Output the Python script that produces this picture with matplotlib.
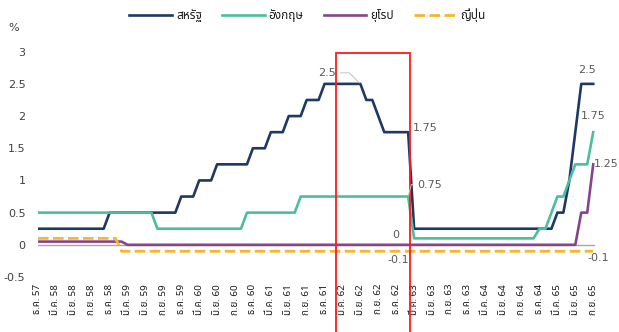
import matplotlib
matplotlib.use("Agg")
import matplotlib.pyplot as plt
from matplotlib import font_manager
from matplotlib.ft2font import FT2Font
from matplotlib.patches import Rectangle

# monthly policy rates (%), ธ.ค.57 (Dec 2014) .. ก.ย.65 (Sep 2022), one row per year
us_rate = [
    0.25,
    0.25, 0.25, 0.25, 0.25, 0.25, 0.25, 0.25, 0.25, 0.25, 0.25, 0.25, 0.5,
    0.5, 0.5, 0.5, 0.5, 0.5, 0.5, 0.5, 0.5, 0.5, 0.5, 0.5, 0.75,
    0.75, 0.75, 1.0, 1.0, 1.0, 1.25, 1.25, 1.25, 1.25, 1.25, 1.25, 1.5,
    1.5, 1.5, 1.75, 1.75, 1.75, 2.0, 2.0, 2.0, 2.25, 2.25, 2.25, 2.5,
    2.5, 2.5, 2.5, 2.5, 2.5, 2.5, 2.25, 2.25, 2.0, 1.75, 1.75, 1.75,
    1.75, 1.75, 0.25, 0.25, 0.25, 0.25, 0.25, 0.25, 0.25, 0.25, 0.25, 0.25,
    0.25, 0.25, 0.25, 0.25, 0.25, 0.25, 0.25, 0.25, 0.25, 0.25, 0.25, 0.25,
    0.25, 0.25, 0.5, 0.5, 1.0, 1.75, 2.5, 2.5, 2.5,
]
uk_rate = [
    0.5,
    0.5, 0.5, 0.5, 0.5, 0.5, 0.5, 0.5, 0.5, 0.5, 0.5, 0.5, 0.5,
    0.5, 0.5, 0.5, 0.5, 0.5, 0.5, 0.5, 0.25, 0.25, 0.25, 0.25, 0.25,
    0.25, 0.25, 0.25, 0.25, 0.25, 0.25, 0.25, 0.25, 0.25, 0.25, 0.5, 0.5,
    0.5, 0.5, 0.5, 0.5, 0.5, 0.5, 0.5, 0.75, 0.75, 0.75, 0.75, 0.75,
    0.75, 0.75, 0.75, 0.75, 0.75, 0.75, 0.75, 0.75, 0.75, 0.75, 0.75, 0.75,
    0.75, 0.75, 0.1, 0.1, 0.1, 0.1, 0.1, 0.1, 0.1, 0.1, 0.1, 0.1,
    0.1, 0.1, 0.1, 0.1, 0.1, 0.1, 0.1, 0.1, 0.1, 0.1, 0.1, 0.25,
    0.25, 0.5, 0.75, 0.75, 1.0, 1.25, 1.25, 1.25, 1.75,
]
eu_rate = [
    0.05,
    0.05, 0.05, 0.05, 0.05, 0.05, 0.05, 0.05, 0.05, 0.05, 0.05, 0.05, 0.05,
    0.05, 0.05, 0, 0, 0, 0, 0, 0, 0, 0, 0, 0,
    0, 0, 0, 0, 0, 0, 0, 0, 0, 0, 0, 0,
    0, 0, 0, 0, 0, 0, 0, 0, 0, 0, 0, 0,
    0, 0, 0, 0, 0, 0, 0, 0, 0, 0, 0, 0,
    0, 0, 0, 0, 0, 0, 0, 0, 0, 0, 0, 0,
    0, 0, 0, 0, 0, 0, 0, 0, 0, 0, 0, 0,
    0, 0, 0, 0, 0, 0, 0.5, 0.5, 1.25,
]
jp_rate = [
    0.1,
    0.1, 0.1, 0.1, 0.1, 0.1, 0.1, 0.1, 0.1, 0.1, 0.1, 0.1, 0.1,
    0.1, -0.1, -0.1, -0.1, -0.1, -0.1, -0.1, -0.1, -0.1, -0.1, -0.1, -0.1,
    -0.1, -0.1, -0.1, -0.1, -0.1, -0.1, -0.1, -0.1, -0.1, -0.1, -0.1, -0.1,
    -0.1, -0.1, -0.1, -0.1, -0.1, -0.1, -0.1, -0.1, -0.1, -0.1, -0.1, -0.1,
    -0.1, -0.1, -0.1, -0.1, -0.1, -0.1, -0.1, -0.1, -0.1, -0.1, -0.1, -0.1,
    -0.1, -0.1, -0.1, -0.1, -0.1, -0.1, -0.1, -0.1, -0.1, -0.1, -0.1, -0.1,
    -0.1, -0.1, -0.1, -0.1, -0.1, -0.1, -0.1, -0.1, -0.1, -0.1, -0.1, -0.1,
    -0.1, -0.1, -0.1, -0.1, -0.1, -0.1, -0.1, -0.1, -0.1,
]

series_names = ["สหรัฐ", "อังกฤษ", "ยุโรป", "ญี่ปุ่น"]

# quarterly axis labels
tick_labels = [
    "ธ.ค. 57",
    "มี.ค. 58", "มิ.ย. 58", "ก.ย. 58", "ธ.ค. 58",
    "มี.ค. 59", "มิ.ย. 59", "ก.ย. 59", "ธ.ค. 59",
    "มี.ค. 60", "มิ.ย. 60", "ก.ย. 60", "ธ.ค. 60",
    "มี.ค. 61", "มิ.ย. 61", "ก.ย. 61", "ธ.ค. 61",
    "มี.ค. 62", "มิ.ย. 62", "ก.ย. 62", "ธ.ค. 62",
    "มี.ค. 63", "มิ.ย. 63", "ก.ย. 63", "ธ.ค. 63",
    "มี.ค. 64", "มิ.ย. 64", "ก.ย. 64", "ธ.ค. 64",
    "มี.ค. 65", "มิ.ย. 65", "ก.ย. 65",
]
tick_step = 3

# ก.พ.62 .. ก.พ.63, the period boxed in red
box_start, box_end = 50, 62


def pick_thai_font(preferred=("Noto Sans Thai", "Sarabun", "IBM Plex Sans Thai Looped")):
    names = {f.name for f in font_manager.fontManager.ttflist}
    for name in preferred:
        if name in names:
            return name
    for f in font_manager.fontManager.ttflist:
        try:
            if 0x0E01 in FT2Font(f.fname).get_charmap():
                return f.name
        except Exception:
            pass
    return "DejaVu Sans"


thai_family = [pick_thai_font(), "DejaVu Sans"]

plt.rcParams["font.family"] = "DejaVu Sans"
label_grey = "#595959"
tick_col = "#404040"

fig = plt.figure(figsize=(6.19, 3.32), dpi=100)
ax = fig.add_axes([38 / 619, 1 - 277 / 332, (595 - 38) / 619, (277 - 51.7) / 332])

x = list(range(len(us_rate)))
ax.axhline(0, color="#A6A6A6", lw=1.0, zorder=1)
l_us, = ax.plot(x, us_rate, color="#1F3864", lw=1.9, zorder=3)
l_uk, = ax.plot(x, uk_rate, color="#4BBE9F", lw=1.9, zorder=3)
l_eu, = ax.plot(x, eu_rate, color="#84458A", lw=1.9, zorder=3)
l_jp, = ax.plot(x, jp_rate, color="#F6B72E", lw=2.0, ls=(0, (3.8, 1.6)), zorder=4)

ax.set_xlim(0, len(us_rate) - 0.7)
ax.set_ylim(-0.5, 3)
ax.set_yticks([-0.5, 0, 0.5, 1, 1.5, 2, 2.5, 3])
ax.set_yticklabels(["-0.5", "0", "0.5", "1", "1.5", "2", "2.5", "3"])
ax.set_xticks(range(0, len(us_rate), tick_step))
ax.set_xticklabels(tick_labels, rotation=90, family=thai_family, fontsize=7, color="#1a1a1a")
ax.tick_params(axis="x", length=0, pad=5)
ax.tick_params(axis="y", length=0, pad=9, labelsize=8, labelcolor=tick_col)
for s in ax.spines.values():
    s.set_visible(False)

fig.text(8 / 619, 1 - 28 / 332, "%", fontsize=8, color=tick_col, va="center")

ax.add_patch(Rectangle((box_start, -1.6), box_end - box_start + 0.3, 2.98 + 1.6,
                       fill=False, edgecolor="#FF1A1A", lw=1.3, clip_on=False, zorder=5))


def value_label(series, i, dx, dy, ha="center", leader=None):
    kw = {}
    if leader:
        kw["arrowprops"] = dict(arrowstyle="-", color="#BFBFBF", lw=0.7,
                                shrinkA=1, shrinkB=1, connectionstyle=leader)
    ax.annotate(f"{series[i]:g}", (i, series[i]), xytext=(dx, dy),
                textcoords="offset pixels", ha=ha, va="center",
                fontsize=8, color=label_grey, zorder=6, **kw)


value_label(us_rate, 54, -33, 11, leader="angle,angleA=0,angleB=-45,rad=0")
value_label(us_rate, box_end, 5, 4, ha="left")
value_label(uk_rate, box_end, 9, 12, ha="left", leader="angle,angleA=0,angleB=75,rad=0")
value_label(eu_rate, box_end, -12, 10)
value_label(jp_rate, box_end, -10, -9)
last = len(us_rate) - 1
value_label(us_rate, last, -6, 14)
value_label(uk_rate, last, 0, 16)
value_label(eu_rate, last, 1, 0, ha="left")
value_label(jp_rate, last, 5, -7)

fig.legend([l_us, l_uk, l_eu, l_jp], series_names, loc="center",
           bbox_to_anchor=(0.497, 1 - 15 / 332), ncol=4, frameon=False,
           handlelength=3.6, handletextpad=0.35, columnspacing=1.7,
           prop={"family": thai_family, "size": 8.5}, labelcolor="#1a1a1a")

fig.savefig("out.png", dpi=100)
